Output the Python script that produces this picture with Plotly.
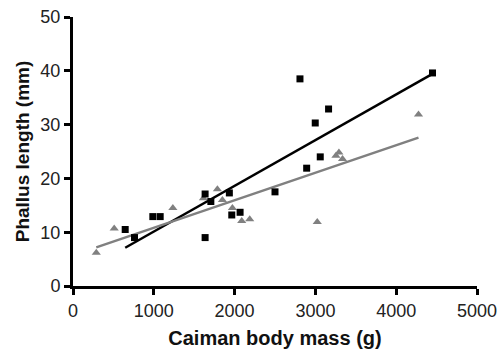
import numpy as np
import plotly.graph_objects as go

# Series 1: black squares
sq_mass = [646, 761, 988, 1079, 1635, 1706, 1935, 1965, 2068, 2500, 1635, 2809, 2892, 2998, 3060, 3163, 4449]
sq_len = [10.5, 9.0, 12.9, 12.9, 17.1, 15.7, 17.3, 13.2, 13.7, 17.5, 9.0, 38.5, 21.9, 30.3, 24.0, 32.9, 39.6]

# Series 2: gray triangles
tr_mass = [288, 510, 1236, 1614, 1787, 1849, 1973, 2088, 2187, 3023, 3254, 3291, 3336, 4276]
tr_len = [6.2, 10.7, 14.5, 16.3, 18.0, 16.0, 14.5, 12.1, 12.4, 11.9, 24.2, 24.8, 23.6, 31.9]

x_ticks = [0, 1000, 2000, 3000, 4000, 5000]
y_ticks = [0, 10, 20, 30, 40, 50]

BLACK = "#000000"
GRAY = "#808080"


def fit_line(xs, ys):
    m, b = np.polyfit(xs, ys, 1)
    x0, x1 = min(xs), max(xs)
    return [x0, x1], [m * x0 + b, m * x1 + b]


fig = go.Figure()
lx, ly = fit_line(sq_mass, sq_len)
fig.add_trace(go.Scatter(x=lx, y=ly, mode="lines", line=dict(color=BLACK, width=2.5), showlegend=False))
gx, gy = fit_line(tr_mass, tr_len)
fig.add_trace(go.Scatter(x=gx, y=gy, mode="lines", line=dict(color=GRAY, width=2.5), showlegend=False))
fig.add_trace(go.Scatter(x=tr_mass, y=tr_len, mode="markers",
                         marker=dict(symbol="triangle-up", size=8, color=GRAY), showlegend=False))
fig.add_trace(go.Scatter(x=sq_mass, y=sq_len, mode="markers",
                         marker=dict(symbol="square", size=7, color=BLACK), showlegend=False))

axis_common = dict(showline=True, linewidth=3, linecolor=BLACK, ticks="outside", ticklen=6,
                   tickwidth=3, tickcolor=BLACK, showgrid=False, zeroline=False, automargin=False,
                   tickfont=dict(family="Liberation Sans, Arial", size=18, color="#222222"))

fig.update_layout(
    width=502, height=360,
    margin=dict(l=73, r=25, t=17, b=74),
    paper_bgcolor="white", plot_bgcolor="white",
    xaxis=dict(range=[0, 5000], tickvals=x_ticks, ticktext=[str(v) for v in x_ticks],
               title=dict(text="<b>Caiman body mass (g)</b>", standoff=12,
                          font=dict(family="Liberation Sans, Arial", size=20, color="#111111")),
               **axis_common),
    yaxis=dict(range=[0, 50], tickvals=y_ticks, ticktext=[str(v) for v in y_ticks],
               title=dict(text="<b>Phallus length (mm)</b>", standoff=6,
                          font=dict(family="Liberation Sans, Arial", size=19, color="#111111")),
               **axis_common),
)

fig.write_html("out.html")
